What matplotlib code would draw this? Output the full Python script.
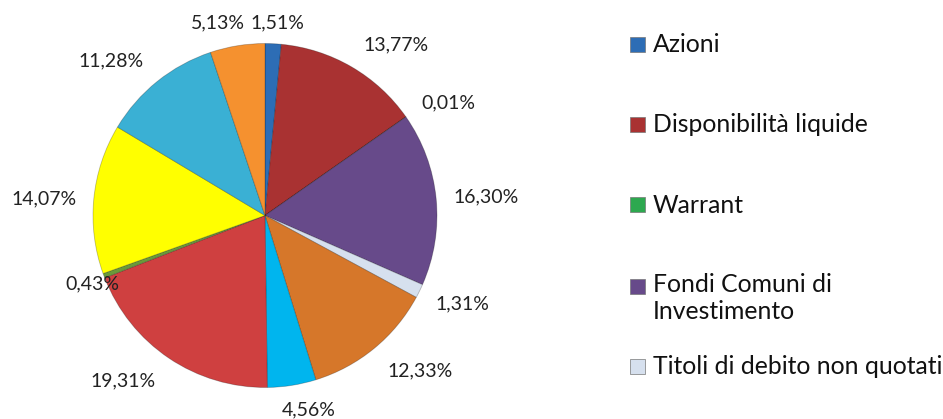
import matplotlib
matplotlib.use("Agg")
import matplotlib.pyplot as plt
from matplotlib.patches import Rectangle
import numpy as np

# ---- data ----
values = [1.51, 13.77, 0.01, 16.30, 1.31, 12.33, 4.56, 19.31, 0.43, 14.07, 11.28, 5.13]
pct_labels = ["1,51%", "13,77%", "0,01%", "16,30%", "1,31%", "12,33%",
              "4,56%", "19,31%", "0,43%", "14,07%", "11,28%", "5,13%"]
legend_labels = ["Azioni", "Disponibilità liquide", "Warrant",
                 "Fondi Comuni di\nInvestimento", "Titoli di debito non quotati"]

# ---- style ----
colors = ["#2D6DB5", "#A93232", "#2DA84F", "#674A8A", "#D6E0EE", "#D6772A",
          "#00B5EE", "#CF4040", "#6A9A3A", "#FFFF00", "#3AB0D4", "#F5912F"]
label_dist = [1.125, 1.25, 1.25, 1.29, 1.26, 1.275, 1.157, 1.27, 1.08, 1.29, 1.27, 1.155]
label_shift = [0.9, 7.4, 3.3, 0.9, -2.0, -5.6, -3.8, 6.7, -1.0, -1.2, -6.1, -4.5]  # deg, clockwise

W, H, DPI = 943, 419, 100
fig = plt.figure(figsize=(W / DPI, H / DPI), dpi=DPI)
fig.patch.set_facecolor("white")
font = "Lato"

cx, cy, R, L = 265, 215.5, 172, 1.6
ax = fig.add_axes([(cx - R * L) / W, (H - cy - R * L) / H, 2 * R * L / W, 2 * R * L / H])

wedges, _ = ax.pie(values, colors=colors, startangle=90, counterclock=False, radius=1,
                   wedgeprops=dict(edgecolor=(0, 0, 0, 0.25), linewidth=0.6))
ax.set_xlim(-L, L)
ax.set_ylim(-L, L)
ax.set_aspect("equal")
ax.axis("off")

for w, lab, d, sh in zip(wedges, pct_labels, label_dist, label_shift):
    ang = np.deg2rad((w.theta1 + w.theta2) / 2 - sh)
    ax.text(d * np.cos(ang), d * np.sin(ang), lab, ha="center", va="center",
            fontsize=14, family=font, color="#222222")

# ---- legend (manual layout) ----
ys = [45, 125, 205, 286, 366]
for w, lab, y in zip(wedges[:5], legend_labels, ys):
    s = 15
    fig.add_artist(Rectangle((630 / W, (H - y - s / 2) / H), s / W, s / H,
                             transform=fig.transFigure, facecolor=w.get_facecolor(),
                             edgecolor="#777777", linewidth=0.5))
    if "\n" in lab:
        fig.text(653 / W, (H - y + 13) / H, lab, ha="left", va="top",
                 fontsize=17.8, family=font, color="#111111", linespacing=1.2)
    else:
        fig.text(653 / W, (H - y) / H, lab, ha="left", va="center",
                 fontsize=17.8, family=font, color="#111111")

fig.savefig("out.png", dpi=DPI)
